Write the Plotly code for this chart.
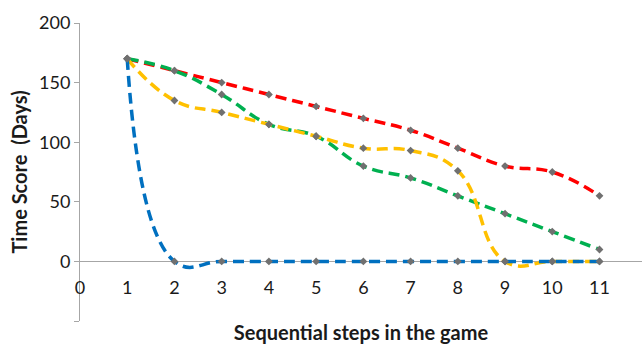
import plotly.graph_objects as go

steps = [1, 2, 3, 4, 5, 6, 7, 8, 9, 10, 11]
red = [170, 160, 150, 140, 130, 120, 110, 95, 80, 75, 55]
green = [170, 160, 140, 115, 105, 80, 70, 55, 40, 25, 10]
yellow = [170, 135, 125, 115, 105, 95, 93, 76, 0, 0, 0]
blue = [170, 0, 0, 0, 0, 0, 0, 0, 0, 0, 0]

x_ticks = [0, 1, 2, 3, 4, 5, 6, 7, 8, 9, 10, 11]
y_ticks = [-50, 0, 50, 100, 150, 200]
y_ticktext = ["", "0", "50", "100", "150", "200"]

series = [
    ("Red", red, "#FF0000"),
    ("Green", green, "#00B050"),
    ("Yellow", yellow, "#FFC000"),
    ("Blue", blue, "#0070C0"),
]

fig = go.Figure()
for name, vals, col in series:
    fig.add_trace(go.Scatter(
        x=steps, y=vals, name=name, mode="lines+markers",
        line=dict(color=col, width=3.5, dash="11px,6px", shape="spline", smoothing=1.3),
        marker=dict(symbol="diamond", size=6, color="#707070"),
        cliponaxis=False,
    ))

font_family = "Lato, 'Open Sans', sans-serif"
txt = "#1a1a1a"

fig.update_layout(
    width=642, height=346,
    margin=dict(l=80, r=0, t=23, b=25),
    paper_bgcolor="white", plot_bgcolor="white",
    showlegend=False,
    font=dict(family=font_family, color=txt),
    xaxis=dict(
        range=[0, 11.9],
        tickmode="array", tickvals=x_ticks,
        showgrid=False, zeroline=False, showline=False,
        anchor="free", position=0.155,
        ticks="", tickfont=dict(size=18, family=font_family, color=txt),
        title=dict(text="<b>Sequential steps in the game</b>", font=dict(size=20, family=font_family, color=txt), standoff=29),
    ),
    yaxis=dict(
        range=[-50, 200],
        tickmode="array", tickvals=y_ticks, ticktext=y_ticktext,
        showgrid=False,
        zeroline=True, zerolinecolor="#A6A6A6", zerolinewidth=1,
        showline=True, linecolor="#A6A6A6", linewidth=1,
        ticks="outside", ticklen=5, tickcolor="#A6A6A6",
        tickfont=dict(size=18, family=font_family, color=txt),
        title=dict(text="<b>Time Score  (Days)</b>", font=dict(size=20, family=font_family, color=txt), standoff=6),
    ),
)

fig.write_html("out.html")
